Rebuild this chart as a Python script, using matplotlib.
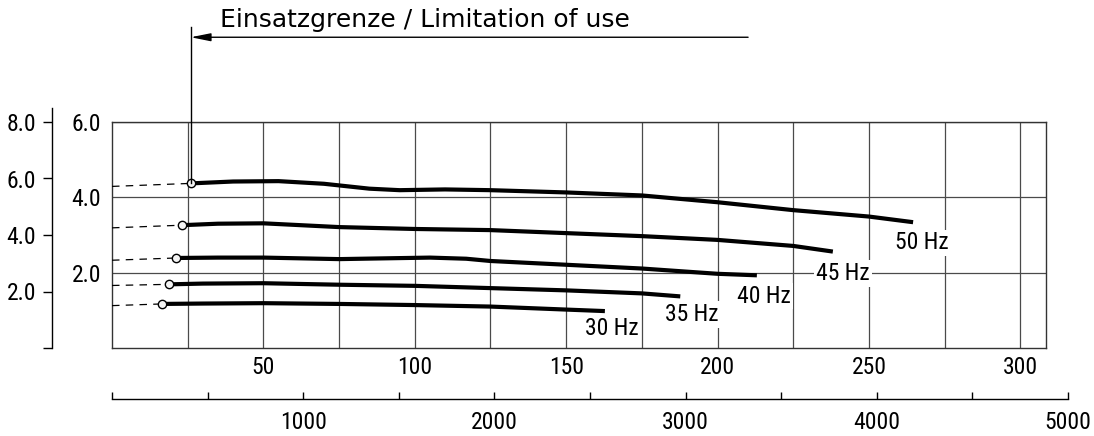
import numpy as np
import matplotlib
matplotlib.use('Agg')
import matplotlib.pyplot as plt

# Kennlinien: Foerderstrom (untere Skala) gegen Foerderhoehe (innere Skala)
freq_labels = ['30 Hz', '35 Hz', '40 Hz', '45 Hz', '50 Hz']

q_30 = [16.6, 30, 50, 75, 100, 125, 150, 162.8]
h_30 = [1.17, 1.18, 1.19, 1.17, 1.14, 1.10, 1.02, 0.98]

q_35 = [18.8, 30, 50, 75, 100, 125, 150, 175, 187.7]
h_35 = [1.69, 1.71, 1.72, 1.68, 1.65, 1.59, 1.53, 1.45, 1.37]

q_40 = [21.3, 35, 50, 75, 90, 105, 117, 125, 150, 175, 200, 213.0]
h_40 = [2.39, 2.40, 2.40, 2.36, 2.38, 2.40, 2.37, 2.31, 2.21, 2.11, 1.97, 1.93]

q_45 = [23.0, 35, 50, 75, 100, 125, 150, 175, 200, 225, 238.1]
h_45 = [3.26, 3.30, 3.31, 3.21, 3.16, 3.13, 3.05, 2.97, 2.87, 2.71, 2.56]

q_50 = [26.0, 40, 55, 70, 85, 95, 110, 125, 150, 175, 200, 225, 250, 264.6]
h_50 = [4.37, 4.42, 4.43, 4.36, 4.23, 4.19, 4.21, 4.19, 4.13, 4.05, 3.87, 3.66, 3.49, 3.34]

# gestrichelte Verlaengerung bis q = 0
h_left = [1.125, 1.66, 2.33, 3.19, 4.29]

curves = [(q_30, h_30), (q_35, h_35), (q_40, h_40), (q_45, h_45), (q_50, h_50)]

# Beschriftungspositionen der Frequenzen
label_pos = [(165.2, 0.51), (191.6, 0.88), (215.4, 1.38), (241.5, 1.98), (267.5, 2.79)]

x_ticks = list(range(25, 301, 25))
x_ticklabels = [str(t) if t % 50 == 0 else '' for t in x_ticks]
inner_ticks = [2.0, 4.0, 6.0]
outer_ticks = [0.0, 2.0, 4.0, 6.0, 8.0]
bottom_ticks = list(range(0, 5001, 500))
bottom_labels = [str(t) if t % 1000 == 0 and t > 0 else '' for t in bottom_ticks]

limit_q = 26.0

narrow = ['Roboto Condensed', 'Liberation Sans', 'DejaVu Sans']
fs = 17

W, H = 1094, 436
fig = plt.figure(figsize=(W / 100, H / 100), dpi=100)

rect = [112 / W, 88 / H, 934 / W, 226 / H]
ax = fig.add_axes(rect)
ax.set_xlim(0, 308.5)
ax.set_ylim(0, 6)

ax.set_xticks(x_ticks)
ax.set_xticklabels(x_ticklabels, family=narrow, fontsize=fs)
ax.set_yticks(inner_ticks)
ax.set_yticklabels(['%.1f' % v for v in inner_ticks], family=narrow, fontsize=fs)
ax.tick_params(axis='x', length=0, pad=6)
ax.tick_params(axis='y', length=0, pad=8)
ax.grid(True, color='#4a4a4a', lw=0.9)
ax.set_axisbelow(True)
for s in ax.spines.values():
    s.set_color('#333333')
    s.set_linewidth(1.0)

for (q, h), hl, lab, (lx, ly) in zip(curves, h_left, freq_labels, label_pos):
    ax.plot([0, q[0]], [hl, h[0]], color='black', lw=0.9, dashes=(6, 5), zorder=3)
    ax.plot(q, h, color='black', lw=3.0, solid_capstyle='butt',
            solid_joinstyle='round', zorder=4)
    ax.plot(q[0], h[0], 'o', ms=6, mfc='#f4f4f4', mec='black', mew=1.0, zorder=5)
    ax.text(lx, ly, lab, family=narrow, fontsize=fs, ha='center', va='center',
            bbox=dict(boxstyle='square,pad=0.08', fc='white', ec='none'), zorder=6)

# Einsatzgrenze
ax.plot([limit_q, limit_q], [h_50[0], 8.51], color='black', lw=1.0, clip_on=False, zorder=5)
ax.annotate('', xy=(limit_q, 8.25), xytext=(210.1, 8.25), annotation_clip=False,
            arrowprops=dict(arrowstyle='-|>,head_length=0.6,head_width=0.12',
                            mutation_scale=20, color='black', lw=1.0,
                            shrinkA=0, shrinkB=0))
fig.text(220 / W, 1 - 27.5 / H, 'Einsatzgrenze / Limitation of use',
         family='DejaVu Sans', fontsize=18, va='baseline', ha='left')

# aeussere y-Skala
ax_o = fig.add_axes(rect, label='outer')
ax_o.patch.set_visible(False)
ax_o.set_ylim(0, 8)
ax_o.set_xticks([])
for k in ['top', 'right', 'bottom']:
    ax_o.spines[k].set_visible(False)
ax_o.spines['left'].set_position(('axes', (52 - 112) / 934))
ax_o.spines['left'].set_bounds(0, 8.5)
ax_o.spines['left'].set_linewidth(1.0)
ax_o.set_yticks(outer_ticks)
ax_o.set_yticklabels(['' if v == 0 else '%.1f' % v for v in outer_ticks],
                     family=narrow, fontsize=fs)
ax_o.tick_params(axis='y', length=6.5, width=1.0, pad=5)

# untere Zusatzskala
ax_b = fig.add_axes([112 / W, 37 / H, 956 / W, 0.001])
ax_b.patch.set_visible(False)
ax_b.set_xlim(0, 5000)
ax_b.set_yticks([])
for k in ['top', 'right', 'left']:
    ax_b.spines[k].set_visible(False)
ax_b.spines['bottom'].set_linewidth(1.0)
ax_b.set_xticks(bottom_ticks)
ax_b.set_xticklabels(bottom_labels, family=narrow, fontsize=fs)
ax_b.tick_params(axis='x', direction='in', length=5, width=1.0, pad=8.5)

fig.savefig('out.png', dpi=100)
